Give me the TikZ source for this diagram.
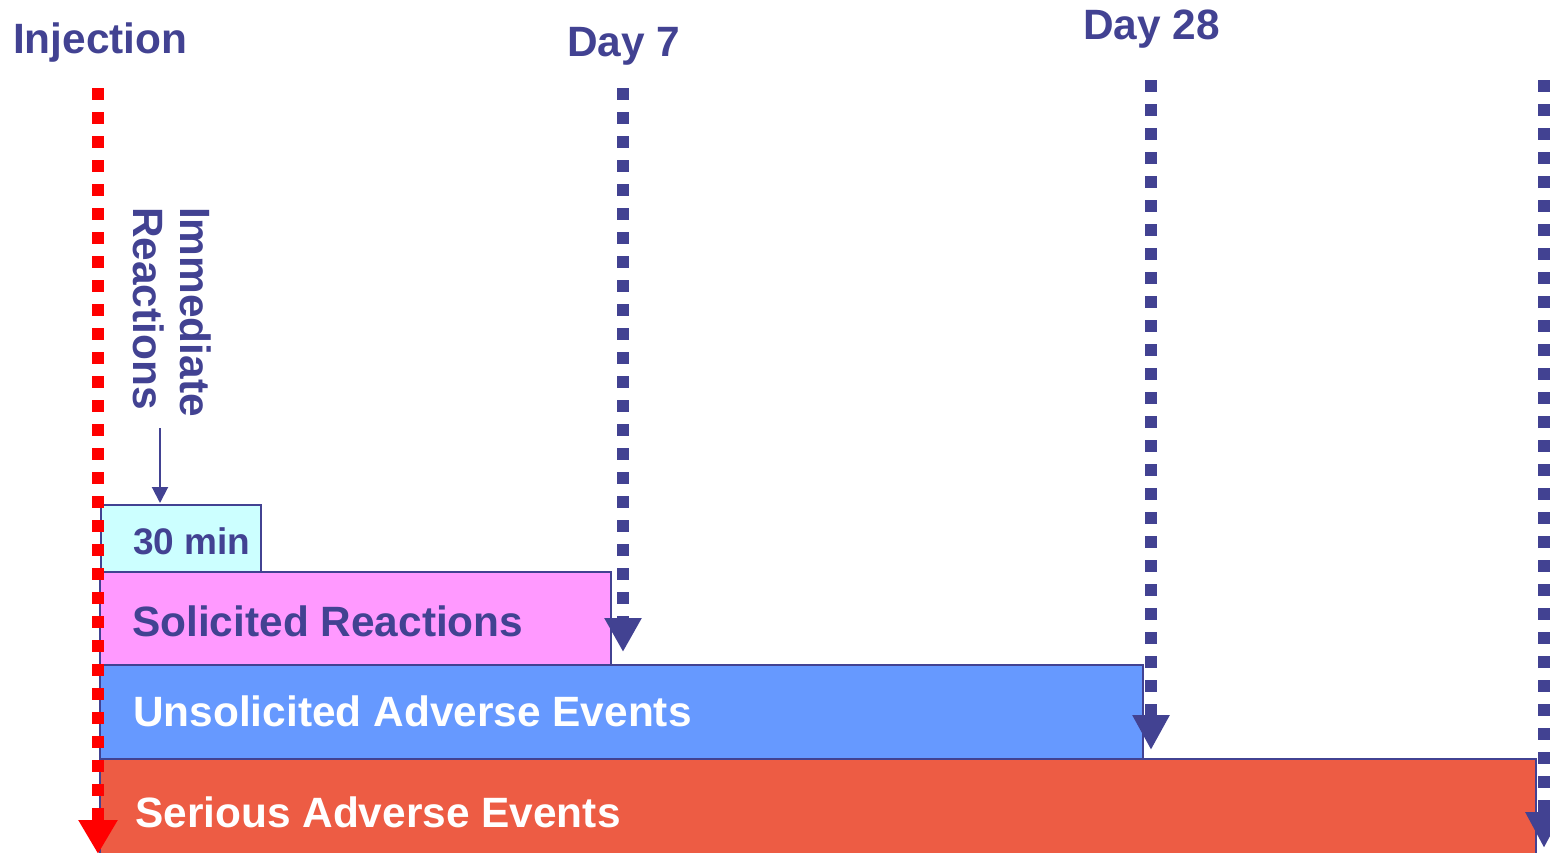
\documentclass[tikz,border=0pt]{standalone}
\usepackage{fontspec}
\setmainfont{Liberation Sans}
\usetikzlibrary{arrows.meta}
\definecolor{navy}{RGB}{66,66,146}
\definecolor{cyanbox}{RGB}{204,255,255}
\definecolor{pinkbox}{RGB}{255,153,255}
\definecolor{bluebox}{RGB}{102,153,255}
\definecolor{redbox}{RGB}{237,92,68}
\tikzset{
  lbl/.style={inner sep=0pt, anchor=base west, font=\fontsize{42.4}{48}\selectfont\bfseries},
  box/.style={draw=navy, line width=2pt},
  marker/.style={line width=11.5pt, dash pattern=on 12pt off 12pt},
}
\begin{document}
\begin{tikzpicture}[x=1pt,y=-1pt]
\clip (0,0) rectangle (1550,852);
\fill[white] (0,0) rectangle (1550,852);
% boxes
\draw[box, fill=redbox] (100,759) rectangle (1536,880);
\draw[box, fill=bluebox] (100,665) rectangle (1143,759);
\draw[box, fill=pinkbox] (100,572) rectangle (611,665);
\draw[box, fill=cyanbox] (101,505) rectangle (261,572);
% box texts
\node[lbl, navy, font=\fontsize{37}{44}\selectfont\bfseries] (t30) at (133,554) {30 min};
\node[lbl, navy] (tsol) at (132,636) {Solicited Reactions};
\node[lbl, white] (tuns) at (133,726) {Unsolicited Adverse Events};
\node[lbl, white] (tser) at (135,827) {Serious Adverse Events};
% headings
\node[lbl, navy] (inj) at (13,53) {Injection};
\node[lbl, navy] (d7) at (567,56) {Day 7};
\node[lbl, navy] (d28) at (1083,39) {Day 28};
\node[lbl, navy, rotate=-90] (imm) at (180,207) {Immediate};
\node[lbl, navy, rotate=-90] (rea) at (133,207) {Reactions};
% small arrow
\coordinate (sa) at (160,428);
\coordinate (sb) at (160,503);
\draw[navy, line width=2pt, -{Triangle[width=16pt,length=16pt]}] (sa) -- (sb);
% marker lines
\coordinate (r0) at (98,88);
\coordinate (r1) at (98,854);
\coordinate (a0) at (623,88);
\coordinate (a1) at (623,652);
\coordinate (b0) at (1151,80);
\coordinate (b1) at (1151,750);
\coordinate (c0) at (1544,80);
\coordinate (c1) at (1544,848);
\draw[marker, navy, -{Triangle[width=35pt,length=34pt]}] (a0) -- (a1);
\draw[marker, navy, -{Triangle[width=35pt,length=35pt]}] (b0) -- (b1);
\draw[marker, navy, -{Triangle[width=35pt,length=36pt]}] (c0) -- (c1);
\draw[marker, red, -{Triangle[width=37pt,length=34pt]}] (r0) -- (r1);
\end{tikzpicture}
\end{document}
